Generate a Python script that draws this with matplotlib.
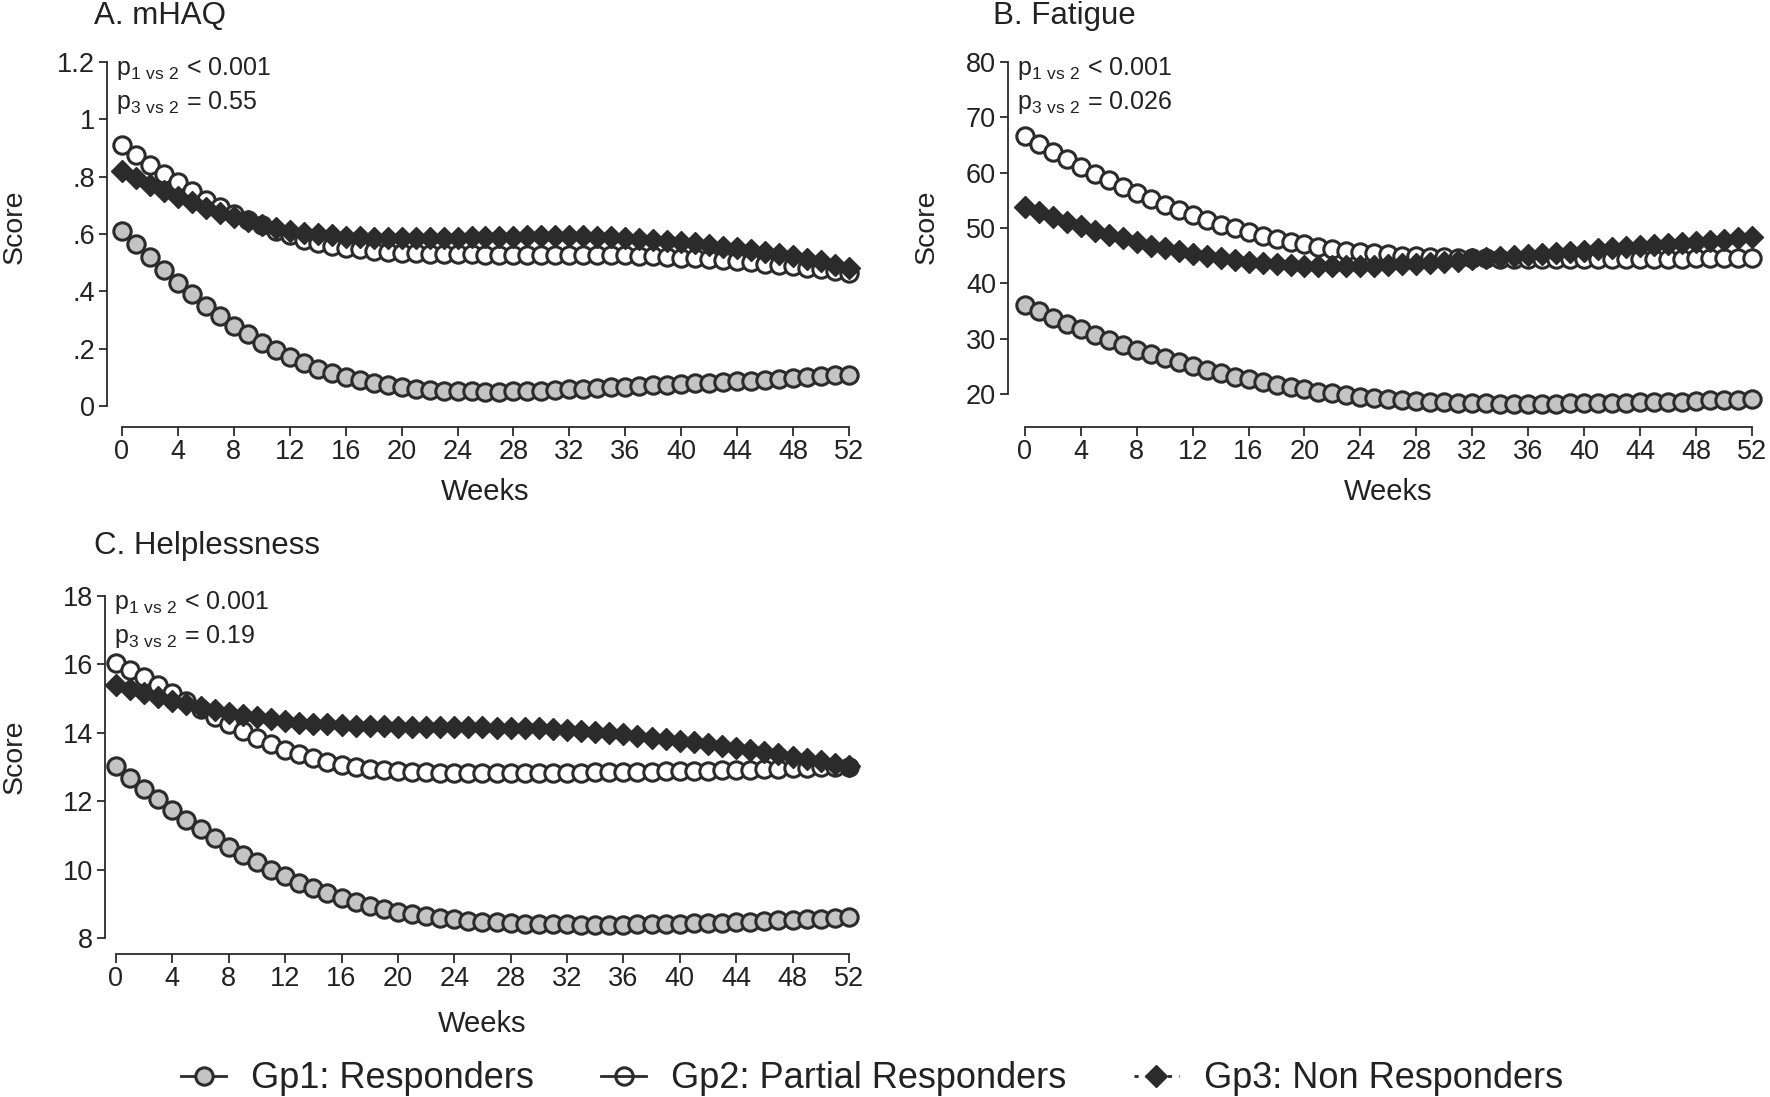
import numpy as np
import matplotlib
matplotlib.use("Agg")
from matplotlib import pyplot as plt
from matplotlib.lines import Line2D

plt.rcParams['font.family'] = ['Liberation Sans', 'DejaVu Sans']
plt.rcParams['mathtext.default'] = 'regular'

weeks = np.arange(53)

# A. mHAQ
haq_gp1 = [0.61, 0.565, 0.52, 0.475, 0.43, 0.39, 0.35, 0.315, 0.28, 0.25,
           0.22, 0.195, 0.17, 0.15, 0.13, 0.115, 0.10, 0.09, 0.08, 0.072,
           0.066, 0.06, 0.057, 0.054, 0.052, 0.051, 0.05, 0.05, 0.051, 0.052,
           0.054, 0.056, 0.058, 0.06, 0.063, 0.065, 0.067, 0.07, 0.072, 0.074,
           0.077, 0.079, 0.082, 0.084, 0.087, 0.089, 0.092, 0.095, 0.098, 0.101,
           0.104, 0.107, 0.11]
haq_gp2 = [0.91, 0.875, 0.84, 0.81, 0.78, 0.75, 0.72, 0.695, 0.67, 0.65,
           0.63, 0.61, 0.595, 0.58, 0.57, 0.56, 0.553, 0.547, 0.542, 0.538,
           0.535, 0.533, 0.531, 0.53, 0.529, 0.529, 0.528, 0.528, 0.528, 0.528,
           0.528, 0.528, 0.528, 0.528, 0.528, 0.527, 0.527, 0.525, 0.523, 0.521,
           0.518, 0.515, 0.512, 0.509, 0.505, 0.501, 0.497, 0.493, 0.488, 0.483,
           0.477, 0.471, 0.465]
haq_gp3 = [0.82, 0.795, 0.77, 0.75, 0.73, 0.71, 0.69, 0.675, 0.66, 0.645,
           0.632, 0.622, 0.612, 0.605, 0.60, 0.595, 0.591, 0.588, 0.586, 0.585,
           0.585, 0.585, 0.586, 0.586, 0.587, 0.588, 0.589, 0.59, 0.59, 0.592,
           0.593, 0.593, 0.593, 0.592, 0.59, 0.589, 0.587, 0.584, 0.58, 0.576,
           0.572, 0.567, 0.562, 0.556, 0.55, 0.544, 0.537, 0.53, 0.522, 0.514,
           0.505, 0.493, 0.48]

# B. Fatigue
fat_gp1 = [36.0, 34.9, 33.8, 32.7, 31.7, 30.7, 29.8, 28.9, 28.0, 27.2,
           26.4, 25.7, 25.0, 24.3, 23.7, 23.1, 22.6, 22.1, 21.6, 21.2,
           20.8, 20.4, 20.1, 19.8, 19.5, 19.3, 19.1, 18.9, 18.7, 18.6,
           18.5, 18.4, 18.3, 18.3, 18.2, 18.2, 18.2, 18.2, 18.2, 18.3,
           18.3, 18.3, 18.4, 18.4, 18.5, 18.5, 18.6, 18.6, 18.7, 18.8,
           18.8, 18.9, 19.0]
fat_gp2 = [66.7, 65.2, 63.8, 62.4, 61.1, 59.8, 58.6, 57.4, 56.3, 55.2,
           54.2, 53.2, 52.3, 51.4, 50.6, 49.9, 49.2, 48.6, 48.0, 47.5,
           47.0, 46.6, 46.2, 45.9, 45.6, 45.4, 45.2, 45.0, 44.9, 44.8,
           44.7, 44.6, 44.5, 44.5, 44.4, 44.4, 44.4, 44.4, 44.4, 44.4,
           44.4, 44.4, 44.4, 44.4, 44.4, 44.4, 44.4, 44.4, 44.5, 44.5,
           44.5, 44.5, 44.5]
fat_gp3 = [53.8, 52.9, 52.0, 51.1, 50.3, 49.5, 48.8, 48.1, 47.4, 46.8,
           46.3, 45.8, 45.3, 44.9, 44.5, 44.2, 43.9, 43.7, 43.5, 43.3,
           43.2, 43.1, 43.1, 43.1, 43.1, 43.2, 43.3, 43.4, 43.5, 43.7,
           43.9, 44.1, 44.3, 44.5, 44.7, 44.9, 45.1, 45.3, 45.5, 45.7,
           45.9, 46.1, 46.3, 46.5, 46.7, 46.9, 47.1, 47.3, 47.5, 47.7,
           47.9, 48.1, 48.3]

# C. Helplessness
hel_gp1 = [13.02, 12.68, 12.36, 12.05, 11.75, 11.46, 11.18, 10.92, 10.67, 10.43,
           10.21, 10.0, 9.8, 9.62, 9.45, 9.3, 9.16, 9.04, 8.93, 8.84,
           8.76, 8.69, 8.63, 8.58, 8.54, 8.5, 8.48, 8.46, 8.44, 8.42,
           8.41, 8.4, 8.4, 8.39, 8.39, 8.39, 8.39, 8.4, 8.4, 8.41,
           8.42, 8.43, 8.44, 8.45, 8.46, 8.48, 8.49, 8.51, 8.53, 8.54,
           8.56, 8.58, 8.6]
hel_gp2 = [16.05, 15.85, 15.62, 15.4, 15.17, 14.93, 14.7, 14.47, 14.25, 14.04,
           13.85, 13.67, 13.51, 13.37, 13.25, 13.15, 13.07, 13.0, 12.95, 12.91,
           12.88, 12.86, 12.84, 12.83, 12.82, 12.82, 12.82, 12.82, 12.82, 12.82,
           12.82, 12.83, 12.83, 12.83, 12.84, 12.84, 12.85, 12.85, 12.86, 12.87,
           12.87, 12.88, 12.89, 12.9, 12.91, 12.92, 12.94, 12.95, 12.96, 12.97,
           12.99, 13.0, 13.01]
hel_gp3 = [15.4, 15.28, 15.16, 15.05, 14.94, 14.84, 14.75, 14.66, 14.58, 14.51,
           14.45, 14.39, 14.34, 14.3, 14.27, 14.25, 14.23, 14.21, 14.2, 14.19,
           14.18, 14.18, 14.17, 14.17, 14.17, 14.16, 14.16, 14.15, 14.15, 14.14,
           14.13, 14.11, 14.09, 14.06, 14.03, 13.99, 13.95, 13.91, 13.86, 13.82,
           13.77, 13.72, 13.66, 13.61, 13.55, 13.49, 13.43, 13.37, 13.3, 13.24,
           13.17, 13.1, 13.03]

xticks = list(range(0, 53, 4))
haq_yticks = [0, 0.2, 0.4, 0.6, 0.8, 1.0, 1.2]
haq_ylabels = ['0', '.2', '.4', '.6', '.8', '1', '1.2']
fat_yticks = [20, 30, 40, 50, 60, 70, 80]
hel_yticks = [8, 10, 12, 14, 16, 18]

group_names = ['Gp1: Responders', 'Gp2: Partial Responders', 'Gp3: Non Responders']
p_texts = {
    'A': ('< 0.001', '= 0.55'),
    'B': ('< 0.001', '= 0.026'),
    'C': ('< 0.001', '= 0.19'),
}

dark = '#2b2b2b'
txt = '#222222'
gray = '#c4c4c4'
styles = [
    dict(marker='o', ms=12.5, mfc=gray, mec=dark, mew=2.2, ls='-', color=dark, lw=1.2),
    dict(marker='o', ms=12.5, mfc='white', mec=dark, mew=2.2, ls='-', color=dark, lw=1.2),
    dict(marker='D', ms=11, mfc=dark, mec=dark, mew=1, ls='--', color=dark, lw=1.2),
]

fig = plt.figure(figsize=(17.7, 10.97), dpi=100)
W, H = 1770, 1097


def make_axes(left_px, top_px, right_px, bottom_px):
    return fig.add_axes([left_px / W, 1 - bottom_px / H,
                         (right_px - left_px) / W, (bottom_px - top_px) / H])


def draw_panel(ax, series, xlim, ylim, yticks, ylabels, key, label_x, weeks_y):
    for vals, st in zip(series, styles):
        ax.plot(weeks, vals, clip_on=False, zorder=3, **st)
    ax.set_xlim(*xlim)
    ax.set_ylim(*ylim)
    for s in ['top', 'right']:
        ax.spines[s].set_visible(False)
    for s in ['left', 'bottom']:
        ax.spines[s].set_linewidth(1.3)
        ax.spines[s].set_color(dark)
    ax.spines['left'].set_bounds(yticks[0], yticks[-1])
    ax.spines['bottom'].set_bounds(0, 52)
    ax.set_xticks(xticks)
    ax.set_yticks(yticks)
    if ylabels is not None:
        ax.set_yticklabels(ylabels)
    ax.tick_params(axis='both', colors=dark, labelcolor=txt, labelsize=19.5,
                   width=1.3, length=5.5, pad=3)
    ax.tick_params(axis='x', length=6.5, pad=2)
    ax.set_ylabel('Score', fontsize=20.5, color=txt)
    ax.yaxis.set_label_coords(label_x, 0.55)
    ax.set_xlabel('Weeks', fontsize=21, color=txt)
    ax.xaxis.set_label_coords((26 - xlim[0]) / (xlim[1] - xlim[0]), weeks_y)
    p1, p3 = p_texts[key]
    ax.text(0.012, 1.02, r'p$_{1\ vs\ 2}$ ' + p1 + '\n' + r'p$_{3\ vs\ 2}$ ' + p3,
            transform=ax.transAxes, va='top', ha='left', fontsize=18,
            color=txt, linespacing=1.35)


ax_a = make_axes(107, 62, 863, 427)
draw_panel(ax_a, [haq_gp1, haq_gp2, haq_gp3], (-1.07, 53), (-0.073, 1.2),
           haq_yticks, haq_ylabels, 'A', -0.105, -0.14)

ax_b = make_axes(1008, 62, 1766, 427)
draw_panel(ax_b, [fat_gp1, fat_gp2, fat_gp3], (-1.2, 53), (14, 80),
           fat_yticks, None, 'B', -0.09, -0.14)

ax_c = make_axes(105, 596, 863, 954)
draw_panel(ax_c, [hel_gp1, hel_gp2, hel_gp3], (-0.78, 53), (7.53, 18),
           hel_yticks, None, 'C', -0.102, -0.156)

fig.text(94 / W, 1 - 16 / H, 'A. mHAQ', fontsize=22.5, va='center', ha='left', color=txt)
fig.text(993 / W, 1 - 16 / H, 'B. Fatigue', fontsize=22.5, va='center', ha='left', color=txt)
fig.text(94 / W, 1 - 546 / H, 'C. Helplessness', fontsize=22.5, va='center', ha='left', color=txt)

legend_styles = [dict(st, lw=2) for st in styles]
legend_styles[1]['mfc'] = 'none'
handles = [Line2D([], [], **st) for st in legend_styles]
handles[2].set_dashes((1.5, 2.5))
fig.legend(handles, group_names, loc='center', bbox_to_anchor=(872 / W, 1 - 1079 / H),
           ncol=3, frameon=False, fontsize=26, handlelength=1.25, handletextpad=0.7,
           columnspacing=1.85, labelcolor=txt, borderpad=0)

fig.savefig('out.png', dpi=100, facecolor='white')
